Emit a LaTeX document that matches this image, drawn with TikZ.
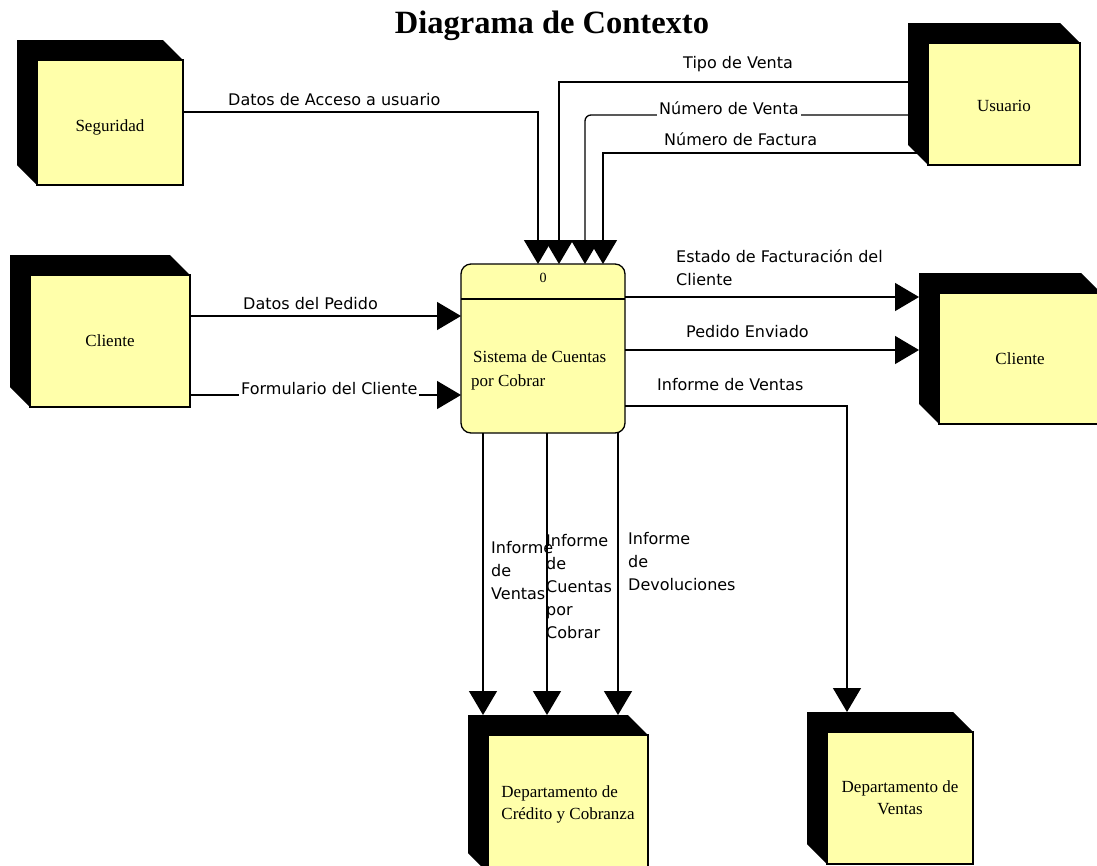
\documentclass[tikz,border=0pt]{standalone}
\usepackage{fontspec}
\setmainfont{Liberation Serif}
\newfontfamily\flowfont{DejaVu Sans}
\usetikzlibrary{arrows.meta,backgrounds}
\definecolor{entityfill}{RGB}{255,255,170}
\begin{document}
\begin{tikzpicture}[x=1pt,y=-1pt,
  entity/.style={draw, line width=1.2pt, fill=entityfill, inner sep=0pt, outer sep=0pt,
    font=\fontsize{17}{22}\selectfont},
  process/.style={draw, line width=1.3pt, fill=entityfill, rounded corners=10pt,
    inner sep=0pt, outer sep=0pt, minimum width=164pt, minimum height=169pt},
  servtext/.style={inner sep=0pt, font=\fontsize{17}{24}\selectfont},
  flow/.style={line width=1.3pt, -{Triangle[width=28pt,length=24pt]}},
  flowlabel/.style={font=\flowfont\fontsize{16}{23}\selectfont, inner sep=0pt},
  title/.style={font=\bfseries\fontsize{32.5}{36}\selectfont, inner sep=0pt},
]
\useasboundingbox (0,0) rectangle (1097,865);

% title
\node[title, anchor=base] (title) at (552,33) {Diagrama de Contexto};

% external entities (front faces)
\node[entity, minimum width=146pt, minimum height=125pt, text height=22pt, text depth=4pt] (seg) at (110,122.5) {Seguridad};
\node[entity, minimum width=152pt, minimum height=122pt, text height=19pt, text depth=4pt] (usu) at (1004,104) {Usuario};
\node[entity, minimum width=160pt, minimum height=132pt] (cli1) at (110,341) {Cliente};
\node[entity, minimum width=162pt, minimum height=131pt] (cli2) at (1020,358.5) {Cliente};
\node[entity, minimum width=160pt, minimum height=138pt, align=left] (dcc) at (568,804)
  {Departamento de\\Crédito y Cobranza};
\node[entity, minimum width=146pt, minimum height=132pt, align=center] (dv) at (900,798)
  {Departamento de\\Ventas};

% white page and black depth of each entity box
\begin{scope}[on background layer]
  \fill[white] (0,0) rectangle (1097,865);
  \foreach \n in {seg,usu,cli1,cli2,dcc,dv}
    \fill[black] ([xshift=-20pt,yshift=20pt]\n.north west)
       -- ([xshift=-20pt,yshift=20pt]\n.north east)
       -- (\n.north east) -- (\n.south west)
       -- ([xshift=-20pt,yshift=20pt]\n.south west) -- cycle;
\end{scope}

% back edges where the flows arrive
\coordinate (cli2back) at ([xshift=-20pt]cli2.west);
\coordinate (dcctop) at ([yshift=20pt]dcc.north);
\coordinate (dvtop) at ([yshift=20pt]dv.north);

% process
\node[process] (proc) at (543,348.5) {};
\draw[line width=1.3pt] (proc.west |- 0,299) -- (proc.east |- 0,299);
\node[servtext, font=\fontsize{14}{16}\selectfont] (procid) at (543,278) {0};
\node[servtext, anchor=west, align=left] (proctext) at (471,370)
  {\hspace{2pt}Sistema de Cuentas\\por Cobrar};

% flows into the process
\draw[flow] (seg.east |- 0,112) -| (538,0 |- proc.north);
\draw[flow] (usu.west |- 0,82) -| (559,0 |- proc.north);
\draw[flow, rounded corners=6pt] (usu.west |- 0,115) -| (585,0 |- proc.north);
\draw[flow] (usu.west |- 0,153) -| (603,0 |- proc.north);
\draw[flow] (cli1.east |- 0,316) -- (proc.west |- 0,316);
\draw[flow] (cli1.east |- 0,395) -- (proc.west |- 0,395);

% flows out of the process
\draw[flow] (proc.east |- 0,297) -- (cli2back |- 0,297);
\draw[flow] (proc.east |- 0,350) -- (cli2back |- 0,350);
\draw[flow] (proc.east |- 0,406) -| (847,0 |- dvtop);
\draw[flow] (483,0 |- proc.south) -- (483,0 |- dcctop);
\draw[flow] (547,0 |- proc.south) -- (547,0 |- dcctop);
\draw[flow] (618,0 |- proc.south) -- (618,0 |- dcctop);

% flow labels
\node[flowlabel, anchor=base west] (lacc) at (228,105) {Datos de Acceso a usuario};
\node[flowlabel, anchor=base west] (ltipo) at (683,68) {Tipo de Venta};
\node[flowlabel, anchor=base west, fill=white, inner sep=2pt] (lnumv) at (657,114.5) {Número de Venta};
\node[flowlabel, anchor=base west] (lnumf) at (664,145) {Número de Factura};
\node[flowlabel, anchor=north west, align=left] (lest) at (676,249) {Estado de Facturación del\\Cliente};
\node[flowlabel, anchor=base west] (lped) at (686,337) {Pedido Enviado};
\node[flowlabel, anchor=base west] (linf) at (657,390) {Informe de Ventas};
\node[flowlabel, anchor=base west] (ldat) at (243,309) {Datos del Pedido};
\node[flowlabel, anchor=base west, fill=white, inner sep=2pt] (lform) at (239,394.5) {Formulario del Cliente};
\node[flowlabel, anchor=north west, align=left] (linfv) at (491,541) {Informe\\de\\Ventas};
\node[flowlabel, anchor=north west, align=left] (linfc) at (546,534) {Informe\\de\\Cuentas\\por\\Cobrar};
\node[flowlabel, anchor=north west, align=left] (linfd) at (628,532) {Informe\\de\\Devoluciones};
\end{tikzpicture}
\end{document}
